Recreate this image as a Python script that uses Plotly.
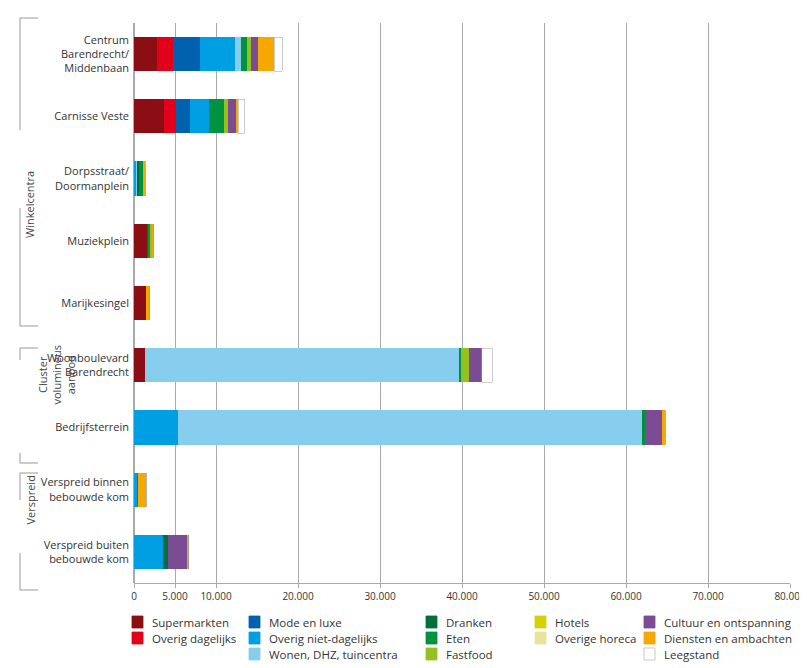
import plotly.graph_objects as go

categories = ["Centrum<br>Barendrecht/<br>Middenbaan", "Carnisse Veste", "Dorpsstraat/<br>Doormanplein",
              "Muziekplein", "Marijkesingel", "Woonboulevard<br>Barendrecht", "Bedrijfsterrein",
              "Verspreid binnen<br>bebouwde kom", "Verspreid buiten<br>bebouwde kom"]
series_names = ["Supermarkten", "Overig dagelijks", "Mode en luxe", "Overig niet-dagelijks",
                "Wonen, DHZ, tuincentra", "Dranken", "Eten", "Fastfood", "Hotels", "Overige horeca",
                "Cultuur en ontspanning", "Diensten en ambachten", "Leegstand"]
colors = ["#8B0E15", "#E2001A", "#0062AE", "#009FE3", "#87CEEE", "#006F3A", "#00923F",
          "#95C11F", "#D4D200", "#E8E49A", "#7B4B94", "#F5A800", "#FFFFFF"]
values = [
    [2800, 3600, 0, 1700, 1500, 1400, 0, 0, 0],        # Supermarkten
    [2000, 1500, 0, 100, 0, 0, 0, 0, 0],               # Overig dagelijks
    [3200, 1700, 0, 0, 0, 0, 0, 0, 0],                 # Mode en luxe
    [4300, 2400, 300, 0, 0, 0, 5400, 400, 3500],       # Overig niet-dagelijks
    [700, 0, 100, 0, 0, 38300, 56500, 0, 0],           # Wonen
    [0, 0, 200, 0, 0, 0, 0, 0, 700],                   # Dranken
    [800, 1800, 500, 200, 0, 200, 400, 100, 0],        # Eten
    [450, 500, 100, 200, 0, 900, 0, 0, 0],             # Fastfood
    [0, 0, 0, 0, 0, 0, 0, 0, 0],                       # Hotels
    [0, 0, 0, 0, 0, 0, 0, 0, 0],                       # Overige horeca
    [900, 900, 0, 0, 0, 1600, 2100, 0, 2300],          # Cultuur
    [1950, 300, 200, 200, 400, 0, 400, 1000, 100],     # Diensten
    [1000, 800, 0, 0, 0, 1300, 0, 0, 0],               # Leegstand
]
tick_vals = [0, 5000, 10000, 20000, 30000, 40000, 50000, 60000, 70000, 80000]
tick_text = ["0", "5.000", "10.000", "20.000", "30.000", "40.000", "50.000", "60.000", "70.000", "80.000"]

FONT = "Open Sans"
fig = go.Figure()
for name, col, vals in zip(series_names, colors, values):
    fig.add_trace(go.Bar(y=categories, x=vals, name=name, orientation="h", width=0.55,
                         marker=dict(color=col, line=dict(width=0.5 if col == "#FFFFFF" else 0, color="#999"))))

L, R, T, B = 126, 782, 15, 575
W, H = 807, 668
def px(x): return (x - L) / (R - L)
def py(y): return (B - y) / (B - T)

shapes, annots = [], []
def vline(y0, y1):
    shapes.append(dict(type="line", xref="paper", yref="paper", x0=px(12), x1=px(12), y0=py(y0), y1=py(y1), line=dict(color="#999", width=1)))
# group brackets: (top, bottom, label, gap_top, gap_bottom, x of label)
for (y0, y1, label, g0, g1, lx) in [(10, 318, "Winkelcentra", 122, 200, 12),
                                    (340, 455, "Cluster<br>volumineus<br>aanbod", 352, 445, 24),
                                    (465, 582, "Verspreid", 492, 545, 12)]:
    vline(y0, g0); vline(g1, y1)
    for yy in (y0, y1):
        shapes.append(dict(type="line", xref="paper", yref="paper", x0=px(12), x1=px(30), y0=py(yy), y1=py(yy), line=dict(color="#999", width=1)))
    annots.append(dict(xref="paper", yref="paper", x=px(lx), y=py((g0 + g1) / 2), text=label, showarrow=False,
                       textangle=-90, font=dict(size=11, color="#444", family=FONT), align="center"))
# manual legend
cols_x = [124, 241, 418, 527, 636]
layout_items = [[0, 1], [2, 3, 4], [5, 6, 7], [8, 9], [10, 11, 12]]
for cx, items in zip(cols_x, layout_items):
    for r, idx in enumerate(items):
        yc = 614 + r * 16
        shapes.append(dict(type="rect", xref="paper", yref="paper", x0=px(cx), x1=px(cx + 11),
                           y0=py(yc + 6), y1=py(yc - 6), fillcolor=colors[idx],
                           line=dict(color="#bbb" if idx == 12 else colors[idx], width=0.8)))
        annots.append(dict(xref="paper", yref="paper", x=px(cx + 18), y=py(yc), text=series_names[idx],
                           showarrow=False, xanchor="left", yanchor="middle",
                           font=dict(size=11.5, color="#333", family=FONT)))

fig.update_layout(
    barmode="stack", width=W, height=H, showlegend=False,
    margin=dict(l=L, r=W - R, t=T, b=H - B, autoexpand=False),
    plot_bgcolor="white", paper_bgcolor="white",
    font=dict(family=FONT, size=11, color="#333"),
    xaxis=dict(range=[0, 80000], tickvals=tick_vals, ticktext=tick_text, showgrid=True, automargin=False,
               gridcolor="#aaa", gridwidth=1, zeroline=True, zerolinecolor="#aaa",
               showline=True, linecolor="#aaa", ticks="outside", ticklen=4, tickcolor="#aaa",
               tickfont=dict(size=10)),
    yaxis=dict(autorange="reversed", ticks="", ticklabelstandoff=4, tickfont=dict(size=11), automargin=False),
    shapes=shapes, annotations=annots,
)
fig.write_html("out.html")
